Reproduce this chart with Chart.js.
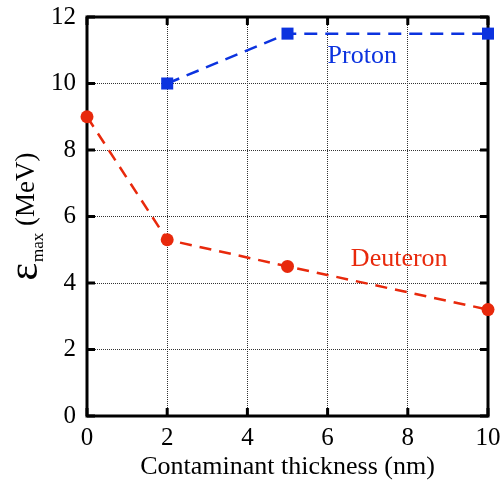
<!DOCTYPE html>
<html lang="en">
<head>
  <meta charset="UTF-8">
  <title>Maximum energy vs contaminant thickness</title>
  <style>
    html, body { margin: 0; padding: 0; background: #fff; }
    #box { width: 502px; height: 489px; }
  </style>
  <script src="https://cdn.jsdelivr.net/npm/chart.js"></script>
</head>
<body>
  <div id="box"><canvas id="emax" aria-label="Maximum energy of protons and deuterons vs contaminant thickness"></canvas></div>

  <script>
    // ---- data ----
    const protonX = [2, 5, 10];
    const protonY = [10, 11.5, 11.5];
    const deuteronX = [0, 2, 5, 10];
    const deuteronY = [9, 5.3, 4.5, 3.2];
    const xTicks = [0, 2, 4, 6, 8, 10];
    const yTicks = [0, 2, 4, 6, 8, 10, 12];
    // in-plot labels: [text, x, y(baseline)] in data units
    const protonLabel = ["Proton", 6.0, 10.62];
    const deuteronLabel = ["Deuteron", 6.58, 4.51];

    const blue = "#0c33df";
    const red = "#e8290c";
    const serif = "'Liberation Serif', 'Times New Roman', serif";

    const pts = (xs, ys) => xs.map((x, i) => ({ x: x, y: ys[i] }));

    // frame + inward ticks, drawn under the markers
    const frame = {
      id: "frame",
      beforeDatasetsDraw(chart) {
        const { ctx, chartArea: a, scales: { x, y } } = chart;
        ctx.save();
        ctx.strokeStyle = "#000";
        ctx.lineWidth = 3;
        ctx.beginPath();
        xTicks.forEach(v => {
          const px = x.getPixelForValue(v);
          ctx.moveTo(px, a.bottom); ctx.lineTo(px, a.bottom - 8);
          ctx.moveTo(px, a.top); ctx.lineTo(px, a.top + 8);
        });
        yTicks.forEach(v => {
          const py = y.getPixelForValue(v);
          ctx.moveTo(a.left, py); ctx.lineTo(a.left + 8, py);
          ctx.moveTo(a.right, py); ctx.lineTo(a.right - 8, py);
        });
        ctx.stroke();
        ctx.strokeRect(a.left, a.top, a.right - a.left, a.bottom - a.top);
        ctx.restore();
      },
      afterDraw(chart) {
        const { ctx, chartArea: a, scales: { x, y } } = chart;
        ctx.save();
        ctx.font = "26px " + serif;
        ctx.textBaseline = "alphabetic";
        ctx.fillStyle = blue;
        ctx.fillText(protonLabel[0], x.getPixelForValue(protonLabel[1]), y.getPixelForValue(protonLabel[2]));
        ctx.fillStyle = red;
        ctx.fillText(deuteronLabel[0], x.getPixelForValue(deuteronLabel[1]), y.getPixelForValue(deuteronLabel[2]));

        // y title: epsilon with "max" subscript, then (MeV)
        ctx.fillStyle = "#000";
        const fEps = "42px " + serif, fSub = "17px " + serif, fUnit = "27px " + serif;
        ctx.font = fEps; const wEps = ctx.measureText("ε").width;
        ctx.font = fSub; const wSub = ctx.measureText("max").width;
        ctx.font = fUnit; const wUnit = ctx.measureText(" (MeV)").width;
        const total = wEps + 1 + wSub + wUnit;
        const mid = (a.top + a.bottom) / 2;
        ctx.translate(37, mid + total / 2);
        ctx.rotate(-Math.PI / 2);
        ctx.font = fEps; ctx.fillText("ε", 0, 0);
        ctx.font = fSub; ctx.fillText("max", wEps + 1, 6);
        ctx.font = fUnit; ctx.fillText(" (MeV)", wEps + 1 + wSub, -3);
        ctx.restore();
      }
    };

    new Chart("emax", {
      type: "scatter",
      data: {
        datasets: [
          {
            label: "Proton",
            data: pts(protonX, protonY),
            showLine: true,
            borderColor: blue,
            backgroundColor: blue,
            borderWidth: 2.5,
            borderDash: [13, 8],
            pointStyle: "rect",
            pointRadius: 8.5,
            pointBorderWidth: 0,
            clip: false
          },
          {
            label: "Deuteron",
            data: pts(deuteronX, deuteronY),
            showLine: true,
            borderColor: red,
            backgroundColor: red,
            borderWidth: 2.5,
            borderDash: [12, 8],
            pointStyle: "circle",
            pointRadius: 6.5,
            pointBorderWidth: 0,
            clip: false
          }
        ]
      },
      options: {
        responsive: true,
        maintainAspectRatio: false,
        animation: false,
        layout: { padding: { top: 17, right: 14, left: 0, bottom: 0 } },
        plugins: { legend: { display: false }, tooltip: { enabled: false } },
        scales: {
          x: {
            type: "linear",
            min: 0, max: 10,
            afterBuildTicks: s => { s.ticks = xTicks.map(v => ({ value: v })); },
            afterFit: s => { s.height = 73; s.paddingLeft = 0; s.paddingRight = 0; },
            grid: { color: "#333", lineWidth: 1, drawTicks: false },
            border: { display: false, dash: [1, 1] },
            ticks: { color: "#000", padding: 7, font: { family: serif, size: 25 } },
            title: {
              display: true,
              text: "Contaminant thickness (nm)",
              color: "#000",
              font: { family: serif, size: 26 },
              padding: { top: 0, bottom: 6 }
            }
          },
          y: {
            type: "linear",
            min: 0, max: 12,
            afterBuildTicks: s => { s.ticks = yTicks.map(v => ({ value: v })); },
            afterFit: s => { s.width = 87; s.paddingTop = 0; s.paddingBottom = 0; },
            grid: { color: "#333", lineWidth: 1, drawTicks: false },
            border: { display: false, dash: [1, 1] },
            ticks: { color: "#000", padding: 11, font: { family: serif, size: 25 } }
          }
        }
      },
      plugins: [frame]
    });
  </script>
</body>
</html>
